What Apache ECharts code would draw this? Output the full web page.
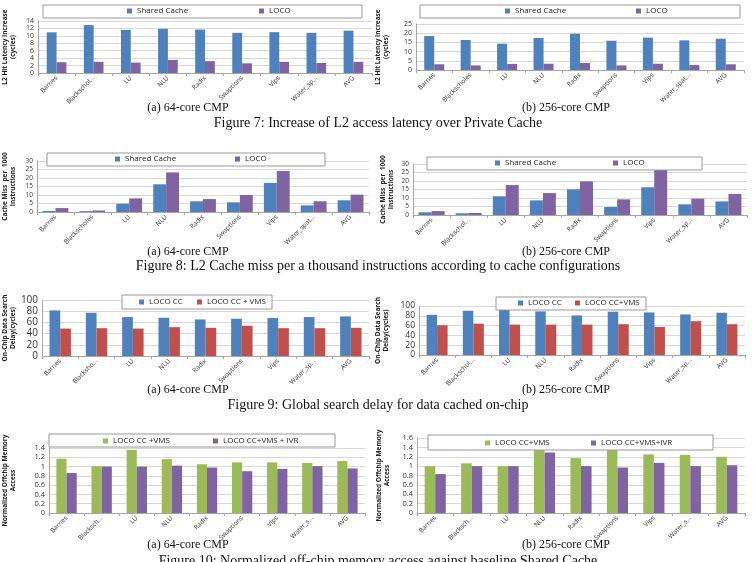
<!DOCTYPE html>
<html><head><meta charset="utf-8">
<script src="https://cdn.jsdelivr.net/npm/echarts@6/dist/echarts.min.js"></script>
<style>html,body{margin:0;padding:0;background:#fff}#c{width:756px;height:562px}</style>
</head><body><div id="c"></div>
<script>
// ---------- data ----------
const cats7a = ['Barnes','Blackschol...','LU','NLU','Radix','Swaptions','Vips','Water_sp...','AVG'];
const cats7b = ['Barnes','Blackscholes','LU','NLU','Radix','Swaptions','Vips','Water_spat...','AVG'];
const cats8a = ['Barnes','Blackscholes','LU','NLU','Radix','Swaptions','Vips','Water_spat...','AVG'];
const cats8b = ['Barnes','Blackschol...','LU','NLU','Radix','Swaptions','Vips','Water_sp...','AVG'];
const cats9a = ['Barnes','Blacksho...','LU','NLU','Radix','Swaptions','Vips','Water_sp...','AVG'];
const cats9b = ['Barnes','Blackschol...','LU','NLU','Radix','Swaptions','Vips','Water_sp...','AVG'];
const cats10a = ['Barnes','Blacksch...','LU','NLU','Radix','Swaptions','Vips','Water_s...','AVG'];
const cats10b = ['Barnes','Blacksch...','LU','NLU','Radix','Swaptions','Vips','Water_s...','AVG'];

const shared7a = [10.95, 12.9, 11.6, 11.9, 11.7, 10.8, 11.0, 10.8, 11.4];
const loco7a   = [2.9, 3.0, 2.8, 3.5, 3.2, 2.6, 3.0, 2.7, 3.0];
const shared7b = [18.5, 16.3, 14.3, 17.4, 19.7, 15.9, 17.6, 16.1, 17.0];
const loco7b   = [3.1, 2.5, 3.3, 3.4, 3.8, 2.5, 3.4, 2.7, 3.1];

const shared8a = [0.6, 0.5, 4.9, 16.3, 6.3, 5.7, 17.1, 3.9, 6.9];
const loco8a   = [2.3, 0.9, 8.0, 23.3, 7.6, 10.0, 24.1, 6.3, 10.2];
const shared8b = [1.6, 1.0, 11.0, 8.6, 15.1, 4.7, 16.3, 6.3, 8.0];
const loco8b   = [2.3, 1.2, 17.6, 12.9, 19.8, 9.2, 26.9, 9.6, 12.4];

const cc9a  = [81.4, 77.2, 69.5, 68.3, 65.3, 66.5, 67.7, 69.5, 70.7];
const vms9a = [49.0, 49.7, 49.0, 51.5, 50.3, 54.0, 49.7, 49.7, 50.3];
const cc9b  = [82.0, 90.3, 94.0, 89.0, 80.7, 88.3, 86.9, 82.8, 86.2];
const vms9b = [60.7, 64.0, 62.0, 62.0, 62.0, 62.8, 57.2, 69.0, 62.8];

const vms10a = [1.17, 1.01, 1.36, 1.16, 1.05, 1.09, 1.09, 1.08, 1.12];
const ivr10a = [0.86, 1.00, 1.00, 1.02, 0.98, 0.90, 0.95, 1.01, 0.96];
const vms10b = [1.00, 1.06, 1.00, 1.37, 1.17, 1.37, 1.25, 1.24, 1.20];
const ivr10b = [0.83, 1.00, 1.00, 1.29, 1.00, 0.97, 1.07, 1.00, 1.02];

const yMax = [14, 25, 30, 30, 100, 100, 1.4, 1.6];
const yStep = [2, 5, 5, 5, 20, 20, 0.2, 0.2];

// ---------- styling ----------
const BLUE='#4F81BD', PURPLE='#8064A2', RED='#C0504D', GREEN='#9BBB59';
const FONT = 'Open Sans';

const panels = [
  {cats:cats7a, s:[['Shared Cache',shared7a,BLUE],['LOCO',loco7a,PURPLE]], g:{left:31,top:21,width:341,height:52},
   name:'L2 Hit Latency Increase\n(cycles)', gap:21, yfs:7, bcg:'47%',
   box:[43,5,319,13], leg:[127,259], ly:7},
  {cats:cats7b, s:[['Shared Cache',shared7b,BLUE],['LOCO',loco7b,PURPLE]], g:{left:416,top:24,width:328,height:46},
   name:'L2 Hit Latency Increase\n(cycles)', gap:26, yfs:7, bcg:'45%',
   box:[420,5,320,13], leg:[505,636], ly:7},
  {cats:cats8a, s:[['Shared Cache',shared8a,BLUE],['LOCO',loco8a,PURPLE]], g:{left:35,top:161,width:334,height:51},
   name:'Cache Miss  per  1000\nInstructions', gap:20, yfs:6.5, bcg:'30%',
   box:[47,153,278,13], leg:[115,235], ly:155},
  {cats:cats8b, s:[['Shared Cache',shared8b,BLUE],['LOCO',loco8b,PURPLE]], g:{left:413,top:164,width:334,height:51},
   name:'Cache Miss  per  1000\nInstructions', gap:18, yfs:6.5, bcg:'30%',
   box:[427,157,275,13], leg:[495,613], ly:159},
  {cats:cats9a, s:[['LOCO CC',cc9a,BLUE],['LOCO CC + VMS',vms9a,RED]], g:{left:33,top:300,width:336,height:56},
   name:'On-Chip Data Search\nDelay(cycles)', gap:23, yfs:10, bcg:'41%',
   box:[122,295,150,14], leg:[139,197], ly:298},
  {cats:cats9b, s:[['LOCO CC ',cc9b,BLUE],['LOCO CC+VMS',vms9b,RED]], g:{left:419,top:306,width:326,height:49},
   name:'On-Chip Data Search\nDelay(cycles)', gap:29, yfs:8.5, bcg:'42%',
   box:[496,297,150,13], leg:[518,575], ly:299},
  {cats:cats10a, s:[['LOCO CC +VMS',vms10a,GREEN],['LOCO CC+VMS + IVR',ivr10a,PURPLE]], g:{left:38,top:448,width:327,height:65},
   name:'Normalized Offchip Memory\nAccess', gap:32, yfs:7.5, bcg:'42%',
   box:[49,434,286,13], leg:[103,213], ly:437},
  {cats:cats10b, s:[['LOCO CC+VMS\u200B',vms10b,GREEN],['LOCO CC+VMS+IVR',ivr10b,PURPLE]], g:{left:417,top:438,width:328,height:75},
   name:'Normalized Offchip Memory\nAccess', gap:26, yfs:7.5, bcg:'42%',
   box:[428,435,285,15], leg:[485,591], ly:439}
];

const grid=[], xAxis=[], yAxis=[], series=[], legend=[], graphic=[];
panels.forEach((p,i)=>{
  grid.push(Object.assign({containLabel:false}, p.g));
  xAxis.push({type:'category', gridIndex:i, data:p.cats,
    axisLine:{lineStyle:{color:'#a6a6a6'}},
    axisTick:{show:true, length:3, lineStyle:{color:'#a6a6a6'}},
    axisLabel:{rotate:45, fontSize:6.5, color:'#333', fontFamily:FONT, interval:0, margin:4}});
  yAxis.push({type:'value', gridIndex:i, min:0, max:yMax[i], interval:yStep[i],
    name:p.name, nameLocation:'middle', nameRotate:90, nameGap:p.gap,
    nameTextStyle:{fontSize:6.5, fontWeight:'bold', color:'#222', fontFamily:FONT, lineHeight:8},
    axisLine:{show:true, lineStyle:{color:'#a6a6a6'}},
    axisTick:{show:false},
    splitLine:{lineStyle:{color:'#d9d9d9'}},
    axisLabel:{fontSize:p.yfs, color:'#333', fontFamily:FONT, margin:4, interval:0,
      showMinLabel:true, showMaxLabel:true, hideOverlap:false, lineHeight:p.yfs - 1}});
  p.s.forEach(([nm,vals,col])=>{
    series.push({type:'bar', name:nm, xAxisIndex:i, yAxisIndex:i, data:vals,
      itemStyle:{color:col}, barGap:'0%', barCategoryGap:p.bcg});
  });
  graphic.push({type:'rect', shape:{x:p.box[0], y:p.box[1], width:p.box[2], height:p.box[3]},
    style:{fill:'#fff', stroke:'#999', lineWidth:1}, z:50});
  p.s.forEach(([nm,vals,col],k)=>{
    legend.push({data:[{name:nm, itemStyle:{color:col}}], left:p.leg[k], top:p.ly, icon:'rect', itemWidth:5, itemHeight:5,
      itemGap:4, padding:0, selectedMode:false, z:60,
      textStyle:{fontSize:8, color:'#222', fontFamily:FONT}});
  });
});

const caps = [
  ['(a) 64-core CMP',188,108,12],['(b) 256-core CMP',566,108,12],
  ['Figure 7: Increase of L2 access latency over Private Cache',378,123,14],
  ['(a) 64-core CMP',188,252,12],['(b) 256-core CMP',566,252,12],
  ['Figure 8: L2 Cache miss per a thousand instructions according to cache configurations',378,266,14],
  ['(a) 64-core CMP',188,390,12],['(b) 256-core CMP',566,390,12],
  ['Figure 9: Global search delay for data cached on-chip',378,405,14],
  ['(a) 64-core CMP',188,545,12],['(b) 256-core CMP',566,545,12],
  ['Figure 10: Normalized off-chip memory access against baseline Shared Cache',378,561,14]
];
caps.forEach(([t,x,y,fs])=>{
  graphic.push({type:'text', x:x, y:y, z:70,
    style:{text:t, fontSize:fs, fontFamily:'Liberation Serif', fill:'#111', align:'center', verticalAlign:'middle'}});
});

const chart = echarts.init(document.getElementById('c'), null, {renderer:'canvas'});
chart.setOption({animation:false, backgroundColor:'#fff', grid, xAxis, yAxis, series, legend, graphic});
</script></body></html>
